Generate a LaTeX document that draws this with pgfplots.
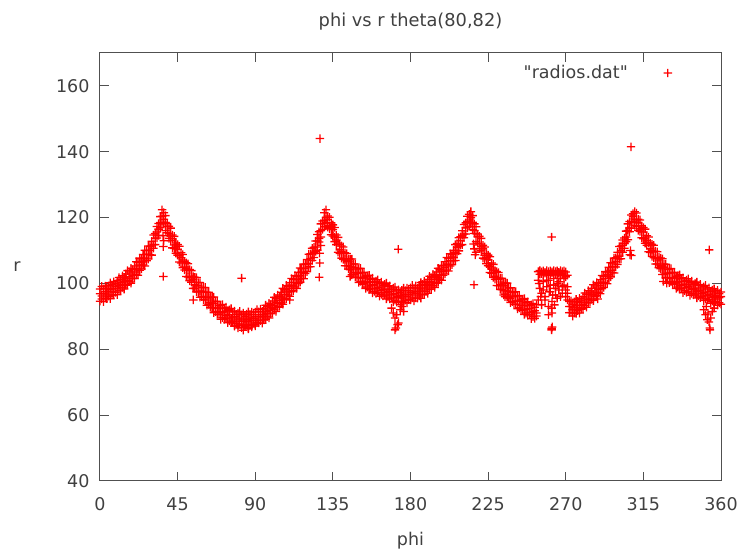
\documentclass[border=0pt]{standalone}
\usepackage{pgfplots}
\usepackage{pgfplotstable}
\pgfplotsset{compat=1.18}
\usepackage{fontspec}
\setmainfont{DejaVu Sans}[Ligatures=TeXOff]
\definecolor{txt}{RGB}{64,64,64}
\definecolor{axc}{RGB}{80,80,80}
\makeatletter
\pgfdeclareplotmark{rplus}{%
  \pgfsys@color@rgb@fill{1}{0}{0}%
  \pgfpathrectanglecorners{\pgfqpoint{-\pgfplotmarksize}{-0.65pt}}{\pgfqpoint{\pgfplotmarksize}{0.65pt}}%
  \pgfpathrectanglecorners{\pgfqpoint{-0.65pt}{-\pgfplotmarksize}}{\pgfqpoint{0.65pt}{\pgfplotmarksize}}%
  \pgfusepathqfill}
\makeatother
\pgfplotsset{rp/.style={only marks, mark=rplus, mark size=4.2pt, red, mark options={solid, fill=red, draw=none}}}

\pgfplotstableread{
phi a b c
0 98.3 96.9 94.6
1 99.1 96.2 95.3
2 98.4 96.9 94.5
3 99.2 97.5 95.5
4 98.5 96.8 95.4
5 99.3 97.5 96.1
6 100.2 98.2 95.4
7 99.6 97.6 96.5
8 100.5 98.4 96.5
9 99.9 99.1 97.3
10 100.8 98.5 96.6
11 101.8 99.4 97.8
12 101.3 100.2 97.9
13 102.3 99.7 98.8
14 101.9 100.7 98.3
15 102.9 101.5 99.5
16 103.9 101.0 99.6
17 103.5 102.0 100.6
18 104.6 102.9 100.1
19 104.2 102.5 101.4
20 105.3 103.5 101.6
21 106.6 104.6 102.8
22 106.4 104.4 102.5
23 107.7 105.6 104.0
24 107.5 106.7 104.4
25 108.8 106.5 105.6
26 110.1 107.7 105.3
27 110.0 108.9 106.9
28 111.4 108.8 107.4
29 111.3 110.1 108.7
30 112.8 111.4 108.6
31 114.7 111.8 110.7
32 115.2 113.7 111.8
33 117.3 115.6 113.8
34 118.2 116.5 114.6
35 120.3 118.5 116.9
36 122.4 120.4 118.1
37 121.5 119.5 118.6
38 120.6 118.5 116.1
39 118.2 117.4 115.4
40 117.4 115.1 113.7
41 116.8 114.4 113.0
42 114.7 113.6 110.8
43 114.3 111.7 110.6
44 112.3 111.1 109.2
45 111.8 110.4 108.6
46 111.3 108.4 106.5
47 109.3 107.8 106.2
48 108.8 107.1 104.8
49 106.7 105.0 104.1
50 106.3 104.5 102.1
51 106.0 104.0 102.0
52 104.2 102.2 100.8
53 103.9 101.8 100.4
54 102.1 101.3 98.5
55 101.9 99.6 98.5
56 101.8 99.4 97.5
57 100.3 99.2 97.4
58 100.3 97.7 95.8
59 98.8 97.6 96.0
60 98.8 97.4 95.1
61 98.8 95.9 95.0
62 97.3 95.8 93.4
63 97.3 95.6 93.6
64 95.8 94.1 92.7
65 95.8 94.0 92.6
66 95.9 93.9 91.1
67 94.5 92.5 91.4
68 94.6 92.5 90.6
69 93.2 92.4 90.6
70 93.3 91.0 89.1
71 93.6 91.2 89.6
72 92.5 91.4 89.1
73 92.8 90.2 89.3
74 91.7 90.5 88.1
75 92.0 90.6 88.6
76 92.4 89.5 88.1
77 91.3 89.8 88.4
78 91.6 89.9 87.1
79 90.6 88.9 87.8
80 91.0 89.2 87.3
81 91.5 89.5 87.7
82 90.5 88.5 86.6
83 91.0 88.9 87.3
84 90.0 89.2 86.9
85 90.7 88.4 87.5
86 91.4 89.0 86.6
87 90.6 89.5 87.5
88 91.3 88.7 87.3
89 90.6 89.4 88.0
90 91.3 89.9 87.1
91 92.1 89.2 88.1
92 91.4 89.9 88.0
93 92.2 90.5 88.7
94 91.5 89.8 87.9
95 92.3 90.5 88.9
96 93.4 91.4 89.1
97 92.9 90.9 90.0
98 94.0 91.9 89.5
99 93.6 92.8 90.8
100 94.7 92.4 91.0
101 95.8 93.4 92.0
102 95.4 94.3 91.5
103 96.5 93.9 92.8
104 96.1 94.9 93.0
105 97.3 95.9 94.1
106 98.5 95.6 93.7
107 98.2 96.7 95.1
108 99.4 97.7 95.4
109 99.1 97.4 96.5
110 100.3 98.5 96.1
111 101.5 99.5 97.5
112 101.2 99.2 97.8
113 102.4 100.3 98.9
114 102.1 101.3 98.5
115 103.4 101.1 100.0
116 104.7 102.3 100.4
117 104.5 103.4 101.6
118 105.9 103.3 101.4
119 105.8 104.6 103.0
120 107.3 105.9 103.6
121 108.9 106.0 105.1
122 109.0 107.5 105.1
123 110.7 109.0 107.0
124 111.0 109.3 107.9
125 112.9 111.1 109.7
126 114.9 112.9 110.1
127 115.7 113.7 112.6
128 118.1 116.0 114.1
129 119.0 118.2 116.4
130 121.5 119.2 117.3
131 122.4 120.0 118.4
132 120.5 119.4 117.1
133 120.1 117.5 116.6
134 118.4 117.2 114.8
135 117.8 116.4 114.4
136 117.0 114.1 112.7
137 114.7 113.2 111.8
138 114.0 112.3 109.5
139 111.9 110.2 109.1
140 111.4 109.6 107.7
141 111.1 109.1 107.3
142 109.3 107.3 105.4
143 109.1 107.0 105.4
144 107.5 106.7 104.4
145 107.4 105.1 104.2
146 107.4 105.0 102.6
147 105.9 104.8 102.8
148 105.9 103.3 101.9
149 104.4 103.2 101.8
150 104.5 103.1 100.3
151 104.6 101.7 100.6
152 103.2 101.7 99.8
153 103.4 101.7 99.9
154 102.1 100.4 98.5
155 102.3 100.5 98.9
156 102.5 100.5 98.2
157 101.3 99.3 98.4
158 101.6 99.5 97.1
159 100.4 99.6 97.6
160 100.7 98.4 97.0
161 101.1 98.7 97.3
162 100.0 98.9 96.1
163 100.4 97.8 96.7
164 99.3 98.1 96.2
165 99.7 98.3 96.5
166 100.1 97.2 95.3
167 99.0 97.5 95.9
168 99.3 97.6 95.3
169 98.2 96.5 95.6
170 98.6 96.8 94.4
171 98.9 96.9 94.9
172 97.7 95.7 94.3
173 98.1 96.0 94.6
174 97.2 96.4 93.6
175 97.9 95.6 94.5
176 98.6 96.2 94.3
177 97.8 96.7 94.9
178 98.6 96.0 94.1
179 97.9 96.7 95.1
180 98.7 97.3 95.0
181 99.4 96.5 95.6
182 98.6 97.1 94.7
183 99.3 97.6 95.6
184 98.6 96.9 95.5
185 99.4 97.6 96.2
186 100.3 98.3 95.5
187 99.7 97.7 96.6
188 100.7 98.6 96.7
189 100.2 99.4 97.6
190 101.2 98.9 97.0
191 102.2 99.8 98.2
192 101.7 100.6 98.3
193 102.8 100.2 99.3
194 102.4 101.2 98.8
195 103.5 102.1 100.1
196 104.6 101.7 100.3
197 104.2 102.7 101.3
198 105.5 103.8 101.0
199 105.3 103.6 102.5
200 106.6 104.8 102.9
201 107.9 105.9 104.1
202 107.7 105.7 103.8
203 109.0 106.9 105.3
204 108.8 108.0 105.7
205 110.1 107.8 106.9
206 111.8 109.4 107.0
207 112.1 111.0 109.0
208 113.9 111.3 109.9
209 114.2 113.0 111.6
210 116.0 114.6 111.8
211 117.9 115.0 113.9
212 118.4 116.9 115.0
213 120.4 118.7 116.9
214 121.0 119.3 117.4
215 121.8 120.0 118.4
216 120.6 118.6 116.3
217 118.1 116.1 115.2
218 117.2 115.1 112.7
219 115.0 114.2 112.2
220 114.3 112.0 110.6
221 113.7 111.3 109.9
222 111.6 110.5 107.7
223 111.1 108.5 107.4
224 109.1 107.9 106.0
225 108.6 107.2 105.4
226 108.1 105.2 103.3
227 106.2 104.7 103.1
228 105.8 104.1 101.8
229 103.9 102.2 101.3
230 103.6 101.8 99.4
231 103.3 101.3 99.3
232 101.6 99.6 98.2
233 101.6 99.5 98.1
234 100.1 99.3 96.5
235 100.1 97.8 96.7
236 100.1 97.7 95.8
237 98.6 97.5 95.7
238 98.7 96.1 94.2
239 97.3 96.1 94.5
240 97.4 96.0 93.7
241 97.5 94.6 93.7
242 96.2 94.7 92.3
243 96.3 94.6 92.6
244 95.0 93.3 91.9
245 95.2 93.4 92.0
246 95.4 93.4 90.6
247 94.1 92.1 91.0
248 94.4 92.3 90.4
249 93.2 92.4 90.6
250 93.5 91.2 89.3
251 93.9 91.5 89.9
252 92.8 91.7 89.4
253 93.6 91.0 90.1
254 103.6 101.0 95.0
255 103.9 102.8 98.5
256 103.5 103.0 97.0
257 103.8 102.6 100.5
258 103.4 103.1 96.0
259 103.9 102.7 99.0
260 103.6 103.0 101.0
261 103.8 102.5 97.5
262 103.5 103.2 94.5
263 103.9 102.8 99.5
264 103.6 102.9 96.5
265 103.8 102.6 100.0
266 103.4 103.1 98.0
267 103.9 102.7 101.5
268 103.6 103.0 97.0
269 103.8 102.5 99.5
270 103.5 102.0 96.0
271 102.5 99.0 95.0
272 94.5 93.0 91.1
273 94.7 93.0 91.2
274 93.7 92.0 90.1
275 94.4 92.6 91.0
276 95.2 93.2 90.9
277 94.6 92.6 91.7
278 95.5 93.4 91.0
279 95.0 94.2 92.2
280 96.0 93.7 92.3
281 97.1 94.7 93.3
282 96.7 95.6 92.8
283 97.8 95.2 94.1
284 97.4 96.2 94.3
285 98.5 97.1 95.3
286 99.6 96.7 94.8
287 99.2 97.7 96.1
288 100.3 98.6 96.3
289 99.9 98.2 97.3
290 101.1 99.3 96.9
291 102.4 100.4 98.4
292 102.2 100.2 98.8
293 103.6 101.5 100.1
294 103.5 102.7 99.9
295 104.9 102.6 101.5
296 106.3 103.9 102.0
297 106.2 105.1 103.3
298 107.7 105.1 103.2
299 107.8 106.6 105.0
300 109.5 108.1 105.8
301 111.2 108.3 107.4
302 111.4 109.9 107.5
303 113.2 111.5 109.5
304 113.8 112.1 110.7
305 115.9 114.1 112.7
306 118.1 116.1 113.3
307 118.8 116.8 115.7
308 120.8 118.7 116.8
309 121.2 120.4 118.6
310 121.8 119.5 117.6
311 121.4 119.0 117.4
312 119.5 118.4 116.1
313 119.3 116.7 115.8
314 117.5 116.3 113.9
315 117.0 115.6 113.6
316 116.5 113.6 112.2
317 114.5 113.0 111.6
318 114.1 112.4 109.6
319 112.2 110.5 109.4
320 111.9 110.1 108.2
321 111.6 109.6 107.8
322 109.8 107.8 105.9
323 109.6 107.5 105.9
324 107.9 107.1 104.8
325 107.7 105.4 104.5
326 107.5 105.1 102.7
327 105.9 104.8 102.8
328 105.8 103.2 101.8
329 104.3 103.1 101.7
330 104.4 103.0 100.2
331 104.5 101.6 100.5
332 103.2 101.7 99.8
333 103.4 101.7 99.9
334 102.1 100.4 98.5
335 102.3 100.5 98.9
336 102.6 100.6 98.3
337 101.4 99.4 98.5
338 101.7 99.6 97.2
339 100.6 99.8 97.8
340 101.0 98.7 97.3
341 101.4 99.0 97.6
342 100.3 99.2 96.4
343 100.7 98.1 97.0
344 99.6 98.4 96.5
345 100.0 98.6 96.8
346 100.4 97.5 95.6
347 99.3 97.8 96.2
348 99.7 98.0 95.7
349 98.6 96.9 96.0
350 99.0 97.2 94.8
351 99.4 97.4 95.4
352 98.3 96.3 94.9
353 98.7 96.6 95.2
354 97.6 96.8 94.0
355 98.0 95.7 94.6
356 98.4 96.0 94.1
357 97.4 96.3 94.5
358 97.9 95.3 93.4
359 96.9 95.7 94.1
360 97.4 96.0 93.7
}\band

\pgfplotstableread{
phi r
36.7 111.2
36.5 114.5
37.0 113.0
36.7 102.1
54.1 95.0
82.1 101.6
78.0 87.0
80.0 86.5
83.0 85.8
84.0 87.4
86.0 86.2
88.0 86.8
90.0 87.5
110.0 95.0
127.5 144.0
127.3 109.2
127.4 106.2
127.1 101.9
128.0 111.5
145.0 102.1
169.0 92.5
170.0 91.0
171.0 89.5
172.0 90.5
173.0 88.0
174.0 92.0
171.5 86.5
171.0 85.9
172.5 87.5
175.0 93.0
176.0 91.5
172.9 110.4
216.5 112.0
217.0 110.5
217.5 108.7
218.0 109.5
216.8 99.6
234.8 96.0
237.7 95.5
254.5 100.0
255.5 96.0
256.0 93.5
257.0 98.0
258.0 95.0
259.0 101.0
260.0 93.0
260.5 97.5
261.0 99.5
261.8 92.5
262.5 96.5
263.0 101.5
263.5 93.5
264.0 98.5
265.0 95.5
266.0 100.5
267.0 96.0
268.0 99.0
269.0 101.5
270.0 98.0
271.0 97.0
261.8 86.4
261.8 85.9
262.2 86.8
261.8 114.1
262.0 91.0
260.0 90.5
288.5 95.3
307.5 110.0
308.0 108.5
307.2 108.7
307.8 141.5
326.6 100.6
328.5 100.1
350.0 92.0
351.0 90.5
352.0 89.0
353.0 88.3
353.5 86.5
353.6 85.9
354.0 89.5
355.0 91.5
352.5 91.0
356.0 92.5
351.5 93.0
353.2 110.2
}\outl

\begin{document}
\begin{tikzpicture}
\begin{axis}[
  scale only axis,
  width=621pt, height=428pt,
  xmin=0, xmax=360, ymin=40, ymax=170,
  xtick={0,45,90,135,180,225,270,315,360},
  ytick={40,60,80,100,120,140,160},
  tick align=inside,
  major tick length=9pt,
  axis line style={draw=axc, line width=1pt},
  every tick/.style={draw=axc, line width=1pt},
  /pgf/number format/assume math mode=true,
  tick label style={font=\fontsize{17.5}{20}\selectfont, text=txt},
  xticklabel style={yshift=-13pt},
  yticklabel style={xshift=-7pt},
  title={phi vs r theta(80,82)},
  title style={font=\fontsize{17.8}{20}\selectfont, text=txt, at={(axis description cs:0.5,1)}, anchor=center, yshift=25pt},
  xlabel={phi},
  xlabel style={font=\fontsize{17.5}{20}\selectfont, text=txt, at={(axis description cs:0.5,0)}, anchor=center, yshift=-60pt},
  ylabel={r},
  ylabel style={font=\fontsize{17.5}{20}\selectfont, text=txt, at={(axis description cs:0,0.5)}, anchor=center, rotate=-90, xshift=-83pt},
  legend plot pos=right,
  legend style={draw=none, fill=none, at={(1,1)}, anchor=east, xshift=-45pt, yshift=-20pt,
    font=\fontsize{17.5}{20}\selectfont, text=txt, inner sep=0pt},
  legend image code/.code={\path[draw=none] (0pt,0pt) -- (46pt,0pt); \path[draw=none] plot[only marks, mark=rplus, mark size=4.2pt, mark options={fill=red, draw=none}] coordinates {(38pt,0pt)};},
  clip=false,
]
\addplot[rp] table[x=phi,y=a] {\band};
\addlegendentry{"radios.dat"}
\addplot[rp, forget plot] table[x=phi,y=b] {\band};
\addplot[rp, forget plot] table[x=phi,y=c] {\band};
\addplot[rp, forget plot] table[x=phi,y=r] {\outl};
\end{axis}
\pgfresetboundingbox
\path ([xshift=-100pt,yshift=-69pt]current axis.south west) rectangle ([xshift=20pt,yshift=53pt]current axis.north east);
\end{tikzpicture}
\end{document}
